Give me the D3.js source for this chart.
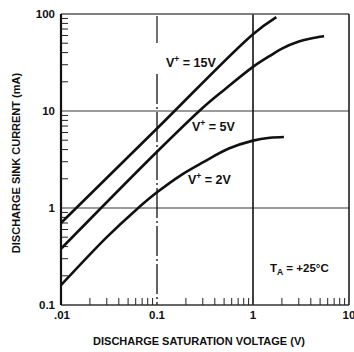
<!DOCTYPE html>
<html><head><meta charset="utf-8">
<script src="https://cdn.jsdelivr.net/npm/d3@7"></script>
<style>body{margin:0;background:#fff}svg{display:block}text{font-family:"Liberation Sans",Arial,sans-serif;font-weight:bold;fill:#111}</style>
</head><body><svg id="c" width="354" height="352"></svg>
<script>
const xTicks = [0.01, 0.1, 1, 10];
const xTickLabels = [".01", "0.1", "1", "10"];
const yTicks = [0.1, 1, 10, 100];
const yTickLabels = ["0.1", "1", "10", "100"];
const seriesNames = ["V+ = 15V", "V+ = 5V", "V+ = 2V"];
const v15 = [[0.01, 0.7], [0.1, 6.6], [1, 62], [1.75, 93]];
const v5 = [[0.01, 0.38], [0.1, 3.8], [0.3, 10.8], [0.5, 16.5], [1, 28.5], [1.5, 37], [2, 44], [3, 52], [4, 56], [5.5, 59]];
const v2 = [[0.01, 0.16], [0.03, 0.5], [0.06, 0.95], [0.1, 1.45], [0.18, 2.2], [0.3, 2.95], [0.56, 4.1], [1, 4.95], [1.5, 5.3], [2.1, 5.4]];

const svg = d3.select("#c");
const L = 61, R = 349, T = 14, B = 305;
const x = d3.scaleLog().domain([0.01, 10]).range([L, R]);
const y = d3.scaleLog().domain([0.1, 100]).range([B, T]);

// grid lines
svg.selectAll(".hg").data([1, 10]).enter().append("line")
  .attr("x1", L).attr("x2", R).attr("y1", d => y(d)).attr("y2", d => y(d))
  .attr("stroke", "#7a7a7a").attr("stroke-width", 1.3);
svg.append("line").attr("x1", x(0.1)).attr("x2", x(0.1)).attr("y1", T + 60).attr("y2", B)
  .attr("stroke", "#111").attr("stroke-width", 1.3).attr("stroke-dasharray", "30,3,2,3");
svg.append("line").attr("x1", x(0.1)).attr("x2", x(0.1)).attr("y1", T + 2).attr("y2", T + 29)
  .attr("stroke", "#111").attr("stroke-width", 1.2);
svg.append("line").attr("x1", x(1)).attr("x2", x(1)).attr("y1", T).attr("y2", B)
  .attr("stroke", "#111").attr("stroke-width", 1.6);

// frame
svg.append("line").attr("x1", L).attr("x2", R).attr("y1", T).attr("y2", T).attr("stroke", "#555").attr("stroke-width", 1.3);
svg.append("line").attr("x1", R).attr("x2", R).attr("y1", T).attr("y2", B).attr("stroke", "#111").attr("stroke-width", 1.5);
svg.append("line").attr("x1", L).attr("x2", R).attr("y1", B).attr("y2", B).attr("stroke", "#333").attr("stroke-width", 1.4);
svg.append("line").attr("x1", L).attr("x2", L).attr("y1", T).attr("y2", B).attr("stroke", "#111").attr("stroke-width", 2.2);

// minor ticks
const minor = [];
[0.1, 1, 10].forEach(d => { for (let k = 2; k <= 9; k++) minor.push(d * k); });
svg.selectAll(".ly").data(minor).enter().append("line")
  .attr("x1", L).attr("x2", L + 7).attr("y1", d => y(d)).attr("y2", d => y(d))
  .attr("stroke", "#222").attr("stroke-width", 1);
const minorX = [];
[0.01, 0.1, 1].forEach(d => { for (let k = 2; k <= 9; k++) minorX.push(d * k); });
svg.selectAll(".lx").data(minorX).enter().append("line")
  .attr("x1", d => x(d)).attr("x2", d => x(d)).attr("y1", B).attr("y2", B - 7)
  .attr("stroke", "#222").attr("stroke-width", 1);

// tick labels
svg.selectAll(".yl").data(yTicks).enter().append("text")
  .attr("x", L - 6).attr("y", d => y(d) + 4).attr("text-anchor", "end")
  .attr("font-size", 11.5).text((d, i) => yTickLabels[i]);
svg.selectAll(".xl").data(xTicks).enter().append("text")
  .attr("x", (d, i) => x(d) + (i === 0 ? 1 : 0)).attr("y", B + 14).attr("text-anchor", "middle")
  .attr("font-size", 11.5).text((d, i) => xTickLabels[i]);

// axis titles
svg.append("text").attr("x", 199).attr("y", 345).attr("text-anchor", "middle")
  .attr("font-size", 11).text("DISCHARGE SATURATION VOLTAGE (V)");
svg.append("text").attr("transform", "translate(20,163) rotate(-90)").attr("text-anchor", "middle")
  .attr("font-size", 11).text("DISCHARGE SINK CURRENT (mA)");

// curves
const smooth = d3.line().x(d => x(d[0])).y(d => y(d[1])).curve(d3.curveCatmullRom.alpha(0.5));
[v15, v5, v2].forEach(s => {
  svg.append("path").attr("d", smooth(s)).attr("fill", "none").attr("stroke", "#111").attr("stroke-width", 2.6);
});

// labels
function vlabel(px, py, name) {
  const parts = name.split("+");
  const t = svg.append("text").attr("x", px).attr("y", py).attr("font-size", 12.5);
  t.append("tspan").text(parts[0]);
  t.append("tspan").attr("dy", -5).attr("font-size", 8.5).text("+");
  t.append("tspan").attr("dy", 5).text(parts[1]);
}
vlabel(166, 67, seriesNames[0]);
vlabel(192, 131, seriesNames[1]);
vlabel(188, 184, seriesNames[2]);

const ta = svg.append("text").attr("x", 270).attr("y", 272).attr("font-size", 11.5);
ta.append("tspan").text("T");
ta.append("tspan").attr("dy", 3).attr("font-size", 8.5).text("A");
ta.append("tspan").attr("dy", -3).text(" = +25°C");
</script></body></html>
